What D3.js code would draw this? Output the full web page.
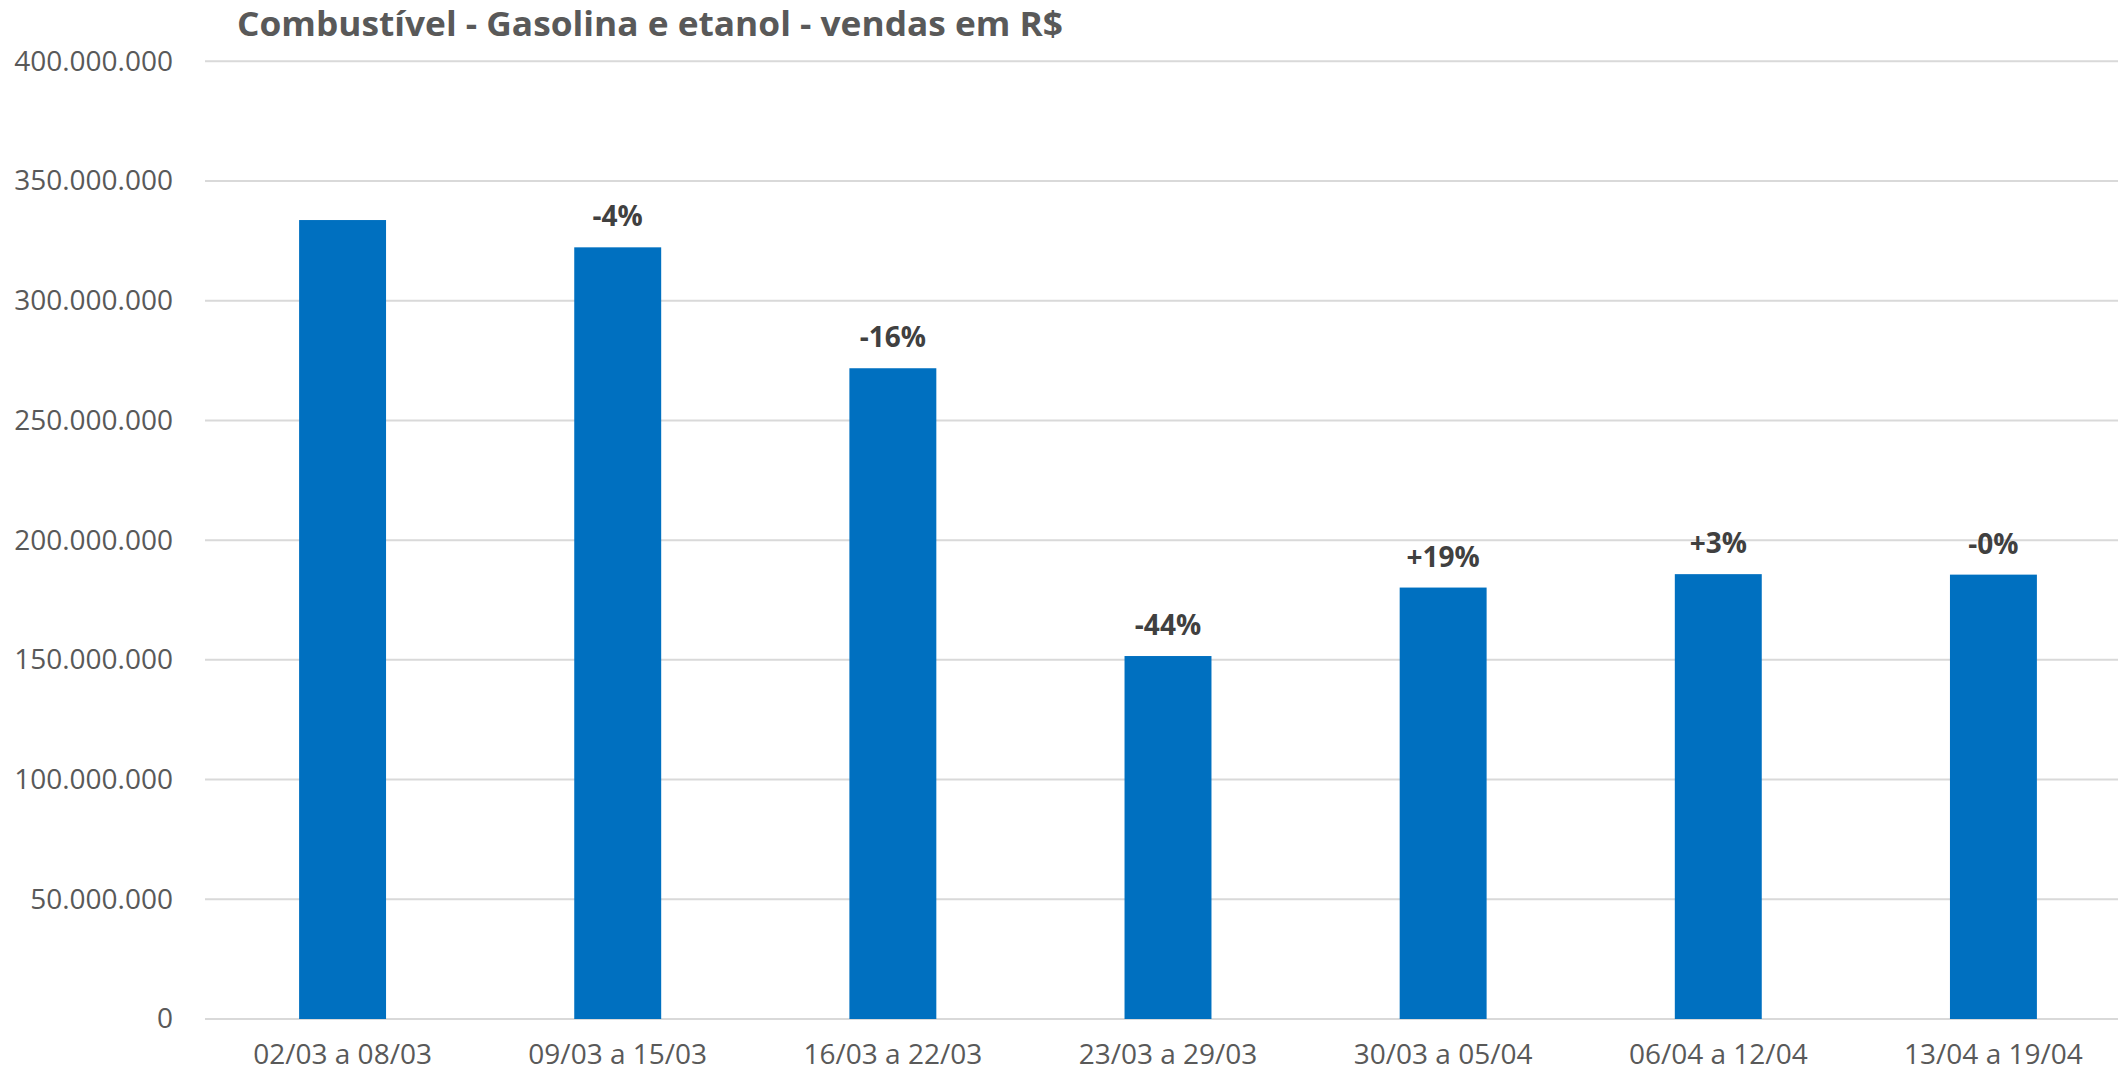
<!DOCTYPE html>
<html>
<head>
<meta charset="utf-8">
<script src="https://cdn.jsdelivr.net/npm/d3@7"></script>
<style>
  html, body { margin: 0; padding: 0; background: #ffffff; }
  svg { display: block; }
</style>
</head>
<body>
<svg id="chart" width="2118" height="1077"></svg>
<script>
const title = "Combustível - Gasolina e etanol - vendas em R$";
const categories = ["02/03 a 08/03", "09/03 a 15/03", "16/03 a 22/03", "23/03 a 29/03", "30/03 a 05/04", "06/04 a 12/04", "13/04 a 19/04"];
const sales = [333700000, 322300000, 271800000, 151600000, 180200000, 185800000, 185600000];
const changeLabels = ["", "-4%", "-16%", "-44%", "+19%", "+3%", "-0%"];
const yTicks = [0, 50000000, 100000000, 150000000, 200000000, 250000000, 300000000, 350000000, 400000000];

(function () {
const svg = d3.select("#chart");
const plotLeft = 205, plotRight = 2118, plotTop = 61.3, plotBottom = 1019;
const font = "'Open Sans', 'Noto Sans', sans-serif";

const y = d3.scaleLinear().domain([0, 400000000]).range([plotBottom, plotTop]);
const x = d3.scaleBand().domain(categories).range([plotLeft, 2131]).paddingInner(0.684).paddingOuter(0.342);

const fmt = d => d3.format(",")(d).replace(/,/g, ".");

// gridlines
svg.append("g").selectAll("line").data(yTicks).join("line")
  .attr("x1", plotLeft).attr("x2", plotRight)
  .attr("y1", d => y(d)).attr("y2", d => y(d))
  .attr("stroke", "#D9D9D9").attr("stroke-width", 2);

// y axis labels
const yAxis = d3.axisLeft(y).tickValues(yTicks).tickFormat(fmt).tickSize(0).tickPadding(32);
const gy = svg.append("g").attr("transform", `translate(${plotLeft},0)`).call(yAxis);
gy.select(".domain").remove();
gy.selectAll("text").attr("font-family", font).attr("font-size", 28).attr("fill", "#595959");

// bars
svg.append("g").selectAll("rect").data(sales).join("rect")
  .attr("x", (d, i) => x(categories[i]))
  .attr("width", x.bandwidth())
  .attr("y", d => y(d))
  .attr("height", d => y(0) - y(d))
  .attr("fill", "#0070C0");

// x axis
const xAxis = d3.axisBottom(x).tickSize(0).tickPadding(25);
const gx = svg.append("g").attr("transform", `translate(0,${plotBottom})`).call(xAxis);
gx.select(".domain").remove();
gx.selectAll("text").attr("font-family", font).attr("font-size", 28).attr("fill", "#595959");

// data labels
svg.append("g").selectAll("text").data(sales).join("text")
  .attr("x", (d, i) => x(categories[i]) + x.bandwidth() / 2)
  .attr("y", d => y(d) - 21)
  .attr("text-anchor", "middle")
  .attr("font-family", font).attr("font-weight", "bold").attr("font-size", 28)
  .attr("fill", "#404040")
  .text((d, i) => changeLabels[i]);

// title
svg.append("text")
  .attr("x", 237).attr("y", 36)
  .attr("font-family", font).attr("font-weight", "bold").attr("font-size", 34)
  .attr("fill", "#595959")
  .attr("textLength", 826).attr("lengthAdjust", "spacingAndGlyphs")
  .text(title);
})();
</script>
</body>
</html>
